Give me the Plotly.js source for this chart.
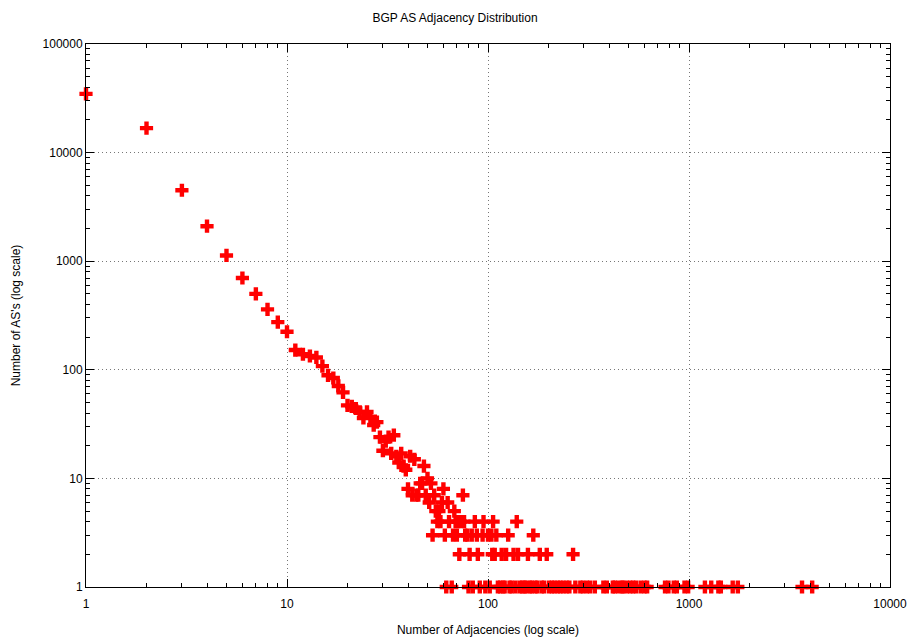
<!DOCTYPE html>
<html>
<head>
<meta charset="utf-8">
<script src="https://cdn.plot.ly/plotly-3.0.1.min.js"></script>
<style>html,body{margin:0;padding:0;background:#fff;}#chart{width:910px;height:637px;}</style>
</head>
<body>
<div id="chart"></div>
<script>
// Number of adjacencies (degree) and number of AS's with that degree
const adjacencies = [
  1,2,3,4,5,6,7,8,9,10,
  11,12,13,14,15,16,17,18,19,20,
  21,22,23,24,25,26,27,28,29,30,
  31,32,33,34,35,36,37,38,39,40,
  41,42,43,44,45,46,47,48,49,50,
  51,52,53,54,55,56,57,58,59,60,
  61,62,63,64,66,67,68,69,70,71,72,73,75,76,77,79,80,81,83,84,86,88,89,91,94,95,97,100,
  102,104,105,106,108,110,112,115,117,119,121,123,126,128,131,134,137,139,141,144,148,152,155,158,162,165,168,172,176,181,185,190,196,
  201,208,214,222,229,237,246,254,265,272,288,297,310,322,340,375,390,418,427,445,464,470,490,510,527,545,575,600,619,
  760,790,840,870,950,990,1200,1290,1400,1440,1650,1750,3650,4100
];
const asCounts = [
  34700,16800,4500,2100,1130,700,500,360,275,224,
  152,139,134,130,108,89,84,71,62,47,
  46,44,41,36,41,37,31,33,24,18,
  22,24,17,25,16,14,17,13,12,8,
  16,7,15,7,7,9,9,13,7,10,
  6,9,3,7,5,4,5,4,6,8,
  3,1,6,4,1,3,5,4,3,4,2,4,7,4,3,3,1,2,3,1,4,3,2,1,3,4,1,3,
  1,3,2,4,2,3,1,1,2,1,1,2,3,1,1,2,1,4,2,1,1,1,1,2,1,1,3,1,1,2,1,1,2,
  1,1,1,1,1,1,1,1,2,1,1,1,1,1,1,1,1,1,1,1,1,1,1,1,1,1,1,1,1,
  1,1,1,1,1,1,1,1,1,1,1,1,1,1
];
const xTickVals = [1,10,100,1000,10000];
const xTickText = ["1","10","100","1000","10000"];
const yTickVals = [1,10,100,1000,10000,100000];
const yTickText = ["1","10","100","1000","10000","100000"];

const fontFam = "Liberation Sans, Arial, sans-serif";

const trace = {
  x: adjacencies,
  y: asCounts,
  type: "scatter",
  mode: "markers",
  cliponaxis: false,
  marker: {symbol: "cross", size: 11, color: "#ff0000", line: {width: 0}},
  hoverinfo: "x+y"
};

const axisCommon = {
  type: "log",
  automargin: false,
  showline: true,
  linecolor: "#000",
  linewidth: 1,
  mirror: "ticks",
  ticks: "inside",
  ticklen: 8,
  tickcolor: "#000",
  tickwidth: 1,
  showgrid: true,
  gridcolor: "#777",
  griddash: "1px,3px",
  gridwidth: 1,
  zeroline: false,
  tickmode: "array",
  tickfont: {family: fontFam, size: 12, color: "#000"},
  minor: {ticks: "inside", ticklen: 4, tickcolor: "#000", tickwidth: 1, showgrid: false, dtick: "D1"}
};

const layout = {
  width: 910,
  height: 637,
  paper_bgcolor: "#fff",
  plot_bgcolor: "#fff",
  showlegend: false,
  margin: {l: 86, r: 20, t: 44, b: 50},
  title: {text: "BGP AS Adjacency Distribution", x: 0.5, xanchor: "center", y: 0.972, yanchor: "middle",
          font: {family: fontFam, size: 12, color: "#000"}},
  xaxis: Object.assign({}, axisCommon, {
    range: [0, 4],
    ticklabelstandoff: 6,
    tickvals: xTickVals, ticktext: xTickText,
    title: {text: "Number of Adjacencies (log scale)", standoff: 16, font: {family: fontFam, size: 12, color: "#000"}}
  }),
  yaxis: Object.assign({}, axisCommon, {
    range: [0, 5],
    tickvals: yTickVals, ticktext: yTickText,
    title: {text: "Number of AS's (log scale)", standoff: 19, font: {family: fontFam, size: 12, color: "#000"}}
  })
};

Plotly.newPlot("chart", [trace], layout, {displayModeBar: false, staticPlot: true});
</script>
</body>
</html>
